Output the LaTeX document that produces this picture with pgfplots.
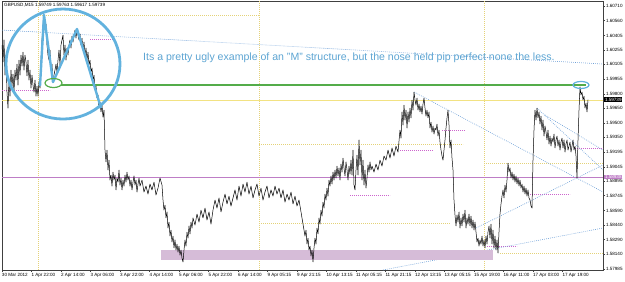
\documentclass[border=0pt]{standalone}
\usepackage{fontspec}
\setmainfont{Liberation Sans}
\usepackage{pgfplots}
\pgfplotsset{compat=1.18}
\definecolor{annblue}{RGB}{98,178,222}
\definecolor{anntext}{RGB}{92,164,210}
\definecolor{greenln}{RGB}{84,172,74}
\definecolor{purpln}{RGB}{190,125,198}
\definecolor{yellln}{RGB}{242,226,130}
\definecolor{dotblue}{RGB}{110,160,215}
\definecolor{dotyell}{RGB}{228,210,120}
\definecolor{dotpurp}{RGB}{205,100,205}
\definecolor{zone}{RGB}{214,188,216}
\begin{document}
\begin{tikzpicture}
\useasboundingbox (0,0) rectangle (625bp,282bp);
\begin{axis}[
  at={(2bp,12bp)}, anchor=south west,
  scale only axis, width=601bp, height=269bp,
  xmin=2, xmax=603, ymin=1.57975, ymax=1.60762,
  clip=false,
  axis line style={black!75, line width=0.5bp},
  xtick={2,31.5,61,90.5,120,149.5,179,208.5,238,267.5,297,326.5,356,385.5,415,444.5,474,503.5,533,562.5},
  xticklabels={30 Mar 2012,1 Apr 22:00,2 Apr 14:00,3 Apr 06:00,3 Apr 22:00,4 Apr 14:00,5 Apr 06:00,5 Apr 22:00,6 Apr 14:00,9 Apr 05:15,9 Apr 21:15,10 Apr 13:15,11 Apr 05:15,11 Apr 21:15,12 Apr 13:15,13 Apr 05:15,15 Apr 19:00,16 Apr 11:00,17 Apr 03:00,17 Apr 19:00},
  ytick={1.60710,1.60560,1.60405,1.60255,1.60105,1.59955,1.59800,1.59650,1.59500,1.59350,1.59195,1.59045,1.58895,1.58745,1.58590,1.58440,1.58290,1.58140,1.57985},
  yticklabels={1.60710,1.60560,1.60405,1.60255,1.60105,1.59955,1.59800,1.59650,1.59500,1.59350,1.59195,1.59045,1.58895,1.58745,1.58590,1.58440,1.58290,1.58140,1.57985},
  scaled y ticks=false,
  xtick pos=left, ytick pos=right, yticklabel pos=right,
  tick align=outside, major tick length=2bp,
  tick style={black!75, line width=0.4bp},
  ticklabel style={font=\fontsize{4.6}{5}\selectfont, inner sep=0.8bp},
  xticklabel style={anchor=north west, xshift=-1bp},
  yticklabel style={anchor=west},
  /pgf/number format/assume math mode=true,
]
% weekly separators
\addplot[dotyell, line width=0.6bp, dash pattern=on 0.8bp off 1.2bp] coordinates {(38,1.57975) (38,1.60762)};
\addplot[dotyell, line width=0.6bp, dash pattern=on 0.8bp off 1.2bp] coordinates {(259,1.57975) (259,1.60762)};
\addplot[dotyell, line width=0.6bp, dash pattern=on 0.8bp off 1.2bp] coordinates {(484,1.57975) (484,1.60762)};
% dotted yellow levels
\addplot[dotyell, line width=0.6bp, dash pattern=on 0.8bp off 1.2bp] coordinates {(38,1.60617) (259,1.60617)};
\addplot[dotyell, line width=0.6bp, dash pattern=on 0.8bp off 1.2bp] coordinates {(259,1.59280) (463,1.59280)};
\addplot[dotyell, line width=0.6bp, dash pattern=on 0.8bp off 1.2bp] coordinates {(259,1.58462) (450,1.58462)};
\addplot[dotyell, line width=0.6bp, dash pattern=on 0.8bp off 1.2bp] coordinates {(484,1.59083) (603,1.59083)};
\addplot[dotyell, line width=0.6bp, dash pattern=on 0.8bp off 1.2bp] coordinates {(500,1.58151) (603,1.58151)};
% dotted purple levels
\addplot[dotpurp, line width=0.6bp, dash pattern=on 0.8bp off 1.2bp] coordinates {(90,1.60368) (113,1.60368)};
\addplot[dotpurp, line width=0.6bp, dash pattern=on 0.8bp off 1.2bp] coordinates {(2,1.59840) (50,1.59840)};
\addplot[dotpurp, line width=0.6bp, dash pattern=on 0.8bp off 1.2bp] coordinates {(442,1.59425) (465,1.59425)};
\addplot[dotpurp, line width=0.6bp, dash pattern=on 0.8bp off 1.2bp] coordinates {(400,1.59218) (433,1.59218)};
\addplot[dotpurp, line width=0.6bp, dash pattern=on 0.8bp off 1.2bp] coordinates {(350,1.58752) (390,1.58752)};
\addplot[dotpurp, line width=0.6bp, dash pattern=on 0.8bp off 1.2bp] coordinates {(530,1.58762) (570,1.58762)};
\addplot[dotpurp, line width=0.6bp, dash pattern=on 0.8bp off 1.2bp] coordinates {(487,1.58223) (517,1.58223)};
\addplot[dotpurp, line width=0.6bp, dash pattern=on 0.8bp off 1.2bp] coordinates {(575,1.59239) (603,1.59239)};
% dotted blue trend lines
\addplot[dotblue, line width=0.6bp, dash pattern=on 0.8bp off 1.2bp] coordinates {(2,1.60461) (603,1.60109)};
\addplot[dotblue, line width=0.6bp, dash pattern=on 0.8bp off 1.2bp] coordinates {(414,1.59819) (603,1.58783)};
\addplot[dotblue, line width=0.6bp, dash pattern=on 0.8bp off 1.2bp] coordinates {(476,1.58410) (603,1.59063)};
\addplot[dotblue, line width=0.6bp, dash pattern=on 0.8bp off 1.2bp] coordinates {(383,1.57975) (603,1.58410)};
\addplot[dotblue, line width=0.6bp, dash pattern=on 0.8bp off 1.2bp] coordinates {(537,1.59653) (603,1.59011)};
\addplot[dotblue, line width=0.6bp, dash pattern=on 0.8bp off 1.2bp] coordinates {(545,1.59581) (603,1.59218)};
% support zone
\addplot[draw=none, fill=zone] coordinates {(161,1.58182) (493,1.58182) (493,1.58078) (161,1.58078)} -- cycle;
% solid horizontal lines
\addplot[yellln, line width=0.8bp] coordinates {(2,1.59730) (603,1.59730)};
\addplot[purpln, line width=0.8bp] coordinates {(2,1.58938) (603,1.58938)};
% price
\addplot[black, line width=0.5bp, line join=round] coordinates {
(2,1.60306)(3,1.60130)(4,1.60358)(5,1.59995)(6,1.60202)(7,1.59819)(8,1.59653)(9,1.59943)(10,1.59777)(11,1.60047)(12,1.59881)(13,1.60005)(14,1.59819)(15,1.60047)(16,1.59943)(17,1.60109)(18,1.59891)(19,1.60150)(20,1.59995)(21,1.60202)(22,1.60088)(23,1.60233)(24,1.60047)(25,1.60202)(26,1.60130)(27,1.59985)(28,1.60150)(29,1.59943)(30,1.60047)(31,1.59860)(32,1.59995)(33,1.59891)(34,1.59819)(35,1.59943)(36,1.59777)(37,1.59881)(38,1.59777)(39,1.59922)(40,1.59860)(41,1.60150)(42,1.60358)(43,1.60513)(44,1.60617)(45,1.60461)(46,1.60523)(47,1.60306)(48,1.60202)(49,1.60150)(50,1.60254)(51,1.60047)(52,1.60109)(53,1.59922)(54,1.59995)(55,1.60047)(56,1.60109)(57,1.60026)(58,1.60150)(59,1.60254)(60,1.60099)(61,1.60306)(62,1.60358)(63,1.60409)(64,1.60202)(65,1.60306)(66,1.60150)(67,1.60275)(68,1.60202)(69,1.60306)(70,1.60358)(71,1.60275)(72,1.60399)(73,1.60337)(74,1.60409)(75,1.60461)(76,1.60378)(77,1.60472)(78,1.60409)(79,1.60358)(80,1.60420)(81,1.60306)(82,1.60378)(83,1.60254)(84,1.60337)(85,1.60202)(86,1.60275)(87,1.60150)(88,1.60233)(89,1.60099)(90,1.60150)(91,1.60026)(92,1.60068)(93,1.59943)(94,1.59995)(95,1.59840)(96,1.59891)(97,1.59757)(98,1.59788)(99,1.59653)(100,1.59715)(101,1.59612)(102,1.59684)(103,1.59560)(104,1.59632)
(105,1.59218)(106,1.59094)(107,1.59218)(108,1.59011)(109,1.59114)(110,1.58907)(111,1.58959)(112,1.58845)(113,1.58990)(114,1.58907)(115,1.58959)(116,1.58804)(117,1.58928)(118,1.58886)(119,1.59011)(120,1.58855)(121,1.58928)(122,1.58804)(123,1.58907)(124,1.58845)(125,1.58959)(126,1.58886)(127,1.58990)(128,1.58907)(129,1.58949)(130,1.58845)(131,1.58907)(132,1.58804)(133,1.58886)(134,1.58949)(135,1.58855)(136,1.58907)(137,1.58783)(138,1.58866)(139,1.58928)(140,1.58845)(142,1.58907)(144,1.58783)(146,1.58845)(148,1.58762)(150,1.58866)(152,1.58804)(154,1.58886)(156,1.58752)(158,1.58824)(160,1.58928)(162,1.58855)(163,1.58700)(164,1.58596)(165,1.58648)(166,1.58514)(167,1.58576)(168,1.58410)(169,1.58472)(170,1.58327)(171,1.58389)(172,1.58265)(173,1.58327)(174,1.58203)(175,1.58286)(176,1.58182)(177,1.58244)(178,1.58161)(179,1.58223)(180,1.58130)(181,1.58182)(182,1.58099)(183,1.58058)(184,1.58182)(185,1.58286)(186,1.58223)(187,1.58368)(188,1.58306)(189,1.58431)(190,1.58348)(191,1.58472)(192,1.58410)(193,1.58514)(195,1.58441)(197,1.58555)(199,1.58472)(201,1.58596)(203,1.58514)(205,1.58617)(207,1.58493)(209,1.58576)(211,1.58451)(213,1.58596)(215,1.58700)(217,1.58617)(219,1.58721)(221,1.58576)(223,1.58679)(225,1.58762)(227,1.58659)(229,1.58741)(231,1.58638)(233,1.58721)(235,1.58804)(237,1.58700)(239,1.58845)(241,1.58741)(243,1.58866)(245,1.58783)(247,1.58886)(249,1.58762)(251,1.58845)(253,1.58721)(255,1.58804)(257,1.58866)(259,1.58741)(261,1.58824)(263,1.58700)(265,1.58783)(267,1.58845)(269,1.58721)(271,1.58804)(273,1.58741)(275,1.58845)(277,1.58762)(279,1.58824)(281,1.58721)(283,1.58804)(285,1.58679)(287,1.58762)(289,1.58700)(291,1.58783)(293,1.58659)(295,1.58741)(297,1.58638)(299,1.58700)(301,1.58576)(303,1.58451)(305,1.58327)(306,1.58389)(307,1.58244)(308,1.58306)(309,1.58182)(310,1.58223)(311,1.58120)(312,1.58182)(313,1.58058)(314,1.58203)(315,1.58306)(316,1.58244)(317,1.58410)(318,1.58348)(319,1.58514)(320,1.58451)(321,1.58596)(322,1.58534)(323,1.58679)(324,1.58617)(325,1.58762)(326,1.58700)(327,1.58824)(328,1.58741)(329,1.58907)(330,1.58845)(331,1.58949)(332,1.58866)(333,1.58990)(334,1.58907)(335,1.59011)(336,1.58928)(337,1.59052)(338,1.58949)(339,1.59032)(340,1.58907)(341,1.59073)(342,1.58990)(343,1.59135)(344,1.59032)(345,1.58949)(346,1.59094)(347,1.59011)(348,1.58907)(349,1.59052)(350,1.58969)
(351,1.59114)(352,1.58959)(353,1.59218)(354,1.58855)(355,1.58804)(356,1.59011)(357,1.59166)(358,1.58959)(359,1.59322)(360,1.59063)(361,1.59218)(362,1.58907)(363,1.59114)(364,1.58855)(365,1.59011)(366,1.58824)(367,1.58928)(368,1.59063)(369,1.58990)(370,1.59094)(371,1.59011)(372,1.59052)(374,1.58990)(376,1.59073)(378,1.59011)(380,1.59114)(382,1.59052)(384,1.59156)(386,1.59114)(388,1.59218)(390,1.59135)(392,1.59239)(394,1.59156)(396,1.59259)(398,1.59197)(400,1.59425)(401,1.59342)(402,1.59612)(403,1.59477)(404,1.59684)(405,1.59529)(406,1.59632)(407,1.59446)(408,1.59612)(409,1.59508)(410,1.59653)(411,1.59550)(412,1.59736)(413,1.59632)(414,1.59819)(415,1.59736)(416,1.59684)(417,1.59757)(418,1.59632)(419,1.59695)(420,1.59612)(421,1.59674)(422,1.59591)(423,1.59695)(424,1.59757)(425,1.59653)(426,1.59570)(427,1.59632)(428,1.59550)(429,1.59612)(430,1.59446)(431,1.59508)(432,1.59404)(433,1.59467)(434,1.59384)(435,1.59446)(436,1.59425)(437,1.59487)(438,1.59363)(439,1.59425)(440,1.59301)(441,1.59218)(442,1.59156)(443,1.59114)(444,1.59218)(445,1.59322)(446,1.59446)(447,1.59550)(448,1.59632)(449,1.59477)(450,1.59239)(451,1.59322)(452,1.59135)(453,1.59011)(454,1.58700)(455,1.58545)(456,1.58431)(457,1.58545)(458,1.58472)(459,1.58576)(460,1.58410)(461,1.58514)(462,1.58431)(463,1.58555)(464,1.58472)(465,1.58596)(466,1.58410)(467,1.58514)(468,1.58451)(469,1.58555)(470,1.58431)(471,1.58534)(472,1.58410)(473,1.58493)(474,1.58389)(475,1.58472)(476,1.58368)(477,1.58265)(478,1.58306)(479,1.58223)(480,1.58286)(481,1.58244)(482,1.58327)(483,1.58223)(484,1.58286)(485,1.58203)(486,1.58327)(487,1.58244)(488,1.58368)(489,1.58431)(490,1.58306)(491,1.58451)(492,1.58244)(493,1.58389)(494,1.58203)(495,1.58327)(496,1.58182)(497,1.58286)(498,1.58151)(499,1.58368)(500,1.58555)(501,1.58659)(502,1.58741)(503,1.58804)(504,1.58721)(505,1.58855)(506,1.58783)(507,1.58907)(508,1.59083)(509,1.58990)(510,1.59032)(511,1.58928)(512,1.58990)(513,1.58907)(514,1.58969)(515,1.58886)(516,1.58949)(517,1.58866)(518,1.58928)(519,1.58845)(520,1.58907)(521,1.58824)(522,1.58866)(523,1.58783)(524,1.58845)(525,1.58762)(526,1.58824)(527,1.58741)(528,1.58804)(529,1.58721)(530,1.58700)(531,1.58638)(532,1.58617)(533,1.59114)(534,1.59425)(535,1.59632)(536,1.59529)(537,1.59653)(538,1.59550)(539,1.59612)(540,1.59487)(541,1.59570)(542,1.59425)(543,1.59529)(544,1.59363)(545,1.59467)(546,1.59404)(547,1.59322)(548,1.59425)(549,1.59280)(550,1.59363)(551,1.59259)(552,1.59342)(553,1.59301)(554,1.59384)(555,1.59239)(556,1.59322)(557,1.59363)(558,1.59259)(559,1.59322)(560,1.59218)(561,1.59301)(562,1.59342)(563,1.59239)(564,1.59322)(565,1.59197)(566,1.59280)(567,1.59322)(568,1.59218)(569,1.59259)(570,1.59301)(571,1.59197)(572,1.59259)(573,1.59322)(574,1.59218)(575,1.59259)(576,1.59156)(577,1.58928)(578,1.59322)(579,1.59632)(580,1.59871)(581,1.59788)(582,1.59819)(583,1.59736)(584,1.59777)(585,1.59653)(586,1.59705)(587,1.59612)(588,1.59739)
};
% annotations
\addplot[greenln, line width=2.8bp] coordinates {(61,1.59892) (586,1.59892)};
\addplot[annblue, line width=2.4bp, line join=round] coordinates {(40,1.59881) (44,1.60617) (53,1.59922) (77,1.60472) (101,1.59653)};
\draw[annblue, line width=2.8bp] (axis cs:63,1.60109) ellipse [x radius=57bp, y radius=55bp];
\draw[greenln, line width=1.2bp] (axis cs:53.5,1.59912) ellipse [x radius=8.5bp, y radius=4.5bp];
\draw[annblue, line width=1.2bp] (axis cs:581,1.59892) ellipse [x radius=8bp, y radius=3.5bp];
\node[anchor=west, text=anntext, font=\fontsize{10.6}{12}\selectfont, inner sep=0] at (axis cs:143,1.60171) {Its a pretty ugly example of an "M" structure, but the nose held pip perfect none the less.};
\node[anchor=north west, font=\fontsize{4.6}{5}\selectfont, inner sep=0] at (axis cs:4,1.60741) {GBPUSD,M15\ 1.59749 1.59763 1.59617 1.59739};
\node[anchor=west, fill=black, text=white, font=\fontsize{4.6}{5}\selectfont, inner sep=0.8bp] at (axis cs:604,1.59739) {1.59739};
\node[anchor=west, fill=purpln, text=white, font=\fontsize{4.6}{5}\selectfont, inner sep=0.8bp] at (axis cs:604,1.58938) {1.58938};
\end{axis}
\end{tikzpicture}
\end{document}
